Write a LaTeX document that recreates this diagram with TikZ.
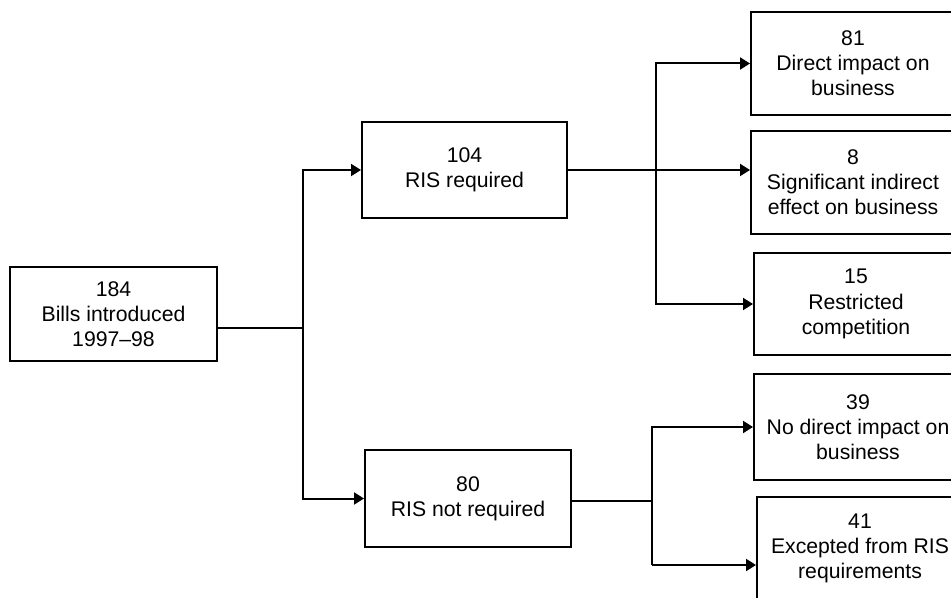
\documentclass[tikz,border=0pt]{standalone}
\usepackage{fontspec}
\setmainfont{Liberation Sans}
\usetikzlibrary{arrows.meta,calc}

\tikzset{
  stage/.style={draw, line width=1pt, align=center, inner sep=0pt,
    font=\fontsize{10.6}{12.6}\selectfont},
  link/.style={line width=1pt},
}

\begin{document}
\begin{tikzpicture}[x=0.5pt, y=-0.5pt, >={Triangle[length=5pt,width=6pt]}]
  \useasboundingbox (0,0) rectangle (951,598);
  \clip (0,0) rectangle (951,598);

  % left and middle boxes
  \node[stage, minimum width=103.5pt, minimum height=47pt] (bills) at (113.5,314) {184\\Bills introduced\\1997--98};
  \node[stage, minimum width=102.5pt, minimum height=48pt] (risreq) at (464.5,170) {104\\RIS required};
  \node[stage, minimum width=103pt, minimum height=48.5pt] (risnot) at (468,498.5) {80\\RIS not required};

  % right column
  \node[stage, minimum width=102pt, minimum height=51.5pt] (direct) at (853,63.5) {81\\Direct impact on\\business};
  \node[stage, minimum width=102pt, minimum height=51.5pt] (indirect) at (853,182.5) {8\\Significant indirect\\effect on business};
  \node[stage, minimum width=102pt, minimum height=51pt] (compet) at (856,304) {15\\Restricted\\competition};
  \node[stage, minimum width=104pt, minimum height=53pt] (nodirect) at (858,427) {39\\No direct impact on\\business};
  \node[stage, minimum width=103pt, minimum height=51.5pt] (except) at (860,548.5) {41\\Excepted from RIS\\requirements};

  % branch points
  \coordinate (busA) at (303,328);
  \coordinate (busB) at (656,170);
  \coordinate (busC) at (652,501);
  \coordinate (busD) at (652,565);

  \draw[link] (busA -| bills.east) -- (busA);
  \draw[link,->] (busA) |- (risreq.west);
  \draw[link,->] (busA) |- (risnot.west);

  \draw[link,->] (risreq.east) -- (risreq.east -| indirect.west);
  \draw[link,->] (busB) |- (direct.west);
  \draw[link,->] (busB) |- (compet.west);

  \draw[link] (busC -| risnot.east) -- (busC);
  \draw[link,->] (busC) |- (nodirect.west);
  \draw[link] (busC) -- (busD);
  \draw[link,->] (busD) -- (busD -| except.west);
\end{tikzpicture}
\end{document}
